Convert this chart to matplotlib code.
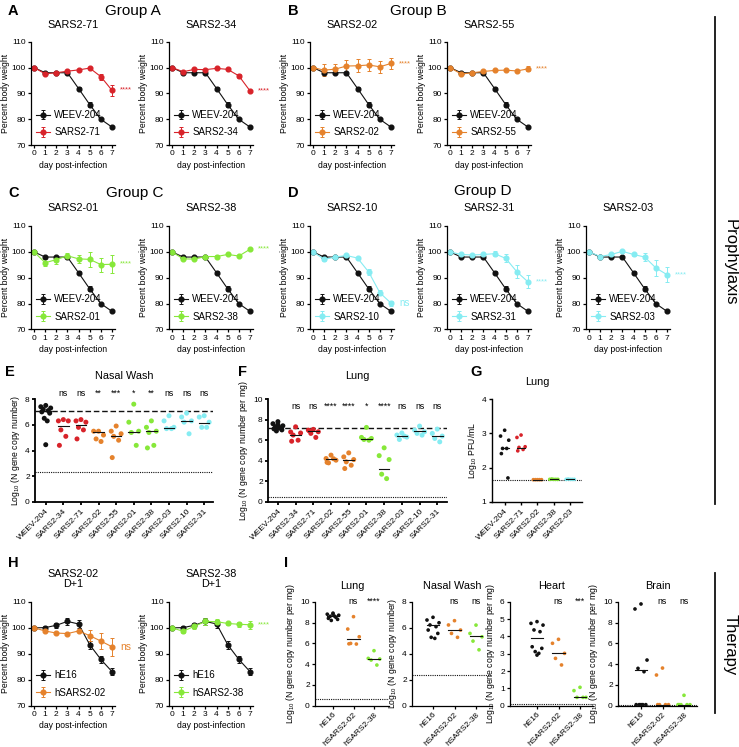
import numpy as np
import matplotlib
matplotlib.use('Agg')
import matplotlib.pyplot as plt
from matplotlib.lines import Line2D

plt.rcParams['font.family'] = 'Liberation Sans'
plt.rcParams['mathtext.fontset'] = 'custom'
plt.rcParams['mathtext.rm'] = 'Liberation Sans'
plt.rcParams['mathtext.it'] = 'Liberation Sans'

# ---- weight curves (percent body weight, days 0-7)
days = [0, 1, 2, 3, 4, 5, 6, 7]
weev_204 = [100, 98.0, 98.0, 98.0, 91.9, 85.7, 80.0, 77.0]
weev_204_err = [0, 0.3, 0.3, 0.3, 0.6, 1.0, 0.4, 0.3]
sars2_71 = [100, 97.6, 98.0, 98.6, 99.1, 99.8, 96.5, 91.2]
sars2_71_err = [0, 0.5, 0.4, 0.4, 0.4, 0.4, 1.2, 2.0]
sars2_34 = [100, 98.4, 99.3, 99.2, 99.7, 99.3, 96.8, 91.0]
sars2_34_err = [0, 0.4, 0.4, 0.4, 0.4, 0.4, 0.8, 0.5]
sars2_02 = [100, 99.0, 99.4, 100.6, 100.7, 101.0, 100.3, 101.6]
sars2_02_err = [0, 2.4, 2.0, 2.4, 2.5, 2.5, 2.4, 2.0]
sars2_55 = [100, 97.5, 98.0, 98.5, 98.9, 99.0, 98.7, 99.5]
sars2_55_err = [0, 0.5, 0.4, 0.4, 0.4, 0.4, 0.4, 1.0]
sars2_01 = [100, 95.8, 97.0, 98.5, 97.3, 97.1, 95.1, 95.2]
sars2_01_err = [0, 1.3, 1.5, 1.0, 1.5, 3.0, 2.7, 3.4]
sars2_38 = [100, 97.3, 97.2, 98.2, 98.2, 99.0, 98.4, 101.0]
sars2_38_err = [0, 0.5, 0.5, 0.4, 0.4, 0.4, 0.4, 0.4]
sars2_10 = [100, 97.1, 98.0, 98.6, 97.6, 92.2, 84.2, 80.2]
sars2_10_err = [0, 0.5, 0.4, 0.4, 0.5, 1.2, 1.0, 1.0]
sars2_31 = [100, 99.0, 98.8, 99.0, 99.3, 97.5, 92.3, 88.4]
sars2_31_err = [0, 0.7, 0.5, 0.5, 1.0, 1.5, 2.5, 2.5]
sars2_03 = [100, 98.2, 99.0, 100.2, 99.0, 98.0, 93.8, 91.2]
sars2_03_err = [0, 0.5, 0.5, 0.5, 0.6, 1.5, 3.0, 3.0]
he16 = [100, 100.1, 101.0, 102.5, 101.5, 93.5, 87.8, 83.1]
he16_err = [0, 0.8, 1.0, 1.5, 1.5, 1.5, 1.2, 1.2]
hsars2_02 = [100, 98.8, 98.0, 97.8, 98.8, 97.0, 94.9, 92.7]
hsars2_02_err = [0, 0.5, 0.4, 0.4, 0.5, 2.0, 3.0, 3.5]
hsars2_38 = [100, 98.7, 100.6, 102.5, 102.4, 101.7, 101.4, 101.2]
hsars2_38_err = [0, 0.7, 1.0, 1.2, 1.0, 0.5, 1.0, 1.5]

# ---- E / F categories
ef_names = ['WEEV-204', 'SARS2-34', 'SARS2-71', 'SARS2-02', 'SARS2-55',
            'SARS2-01', 'SARS2-38', 'SARS2-03', 'SARS2-10', 'SARS2-31']
nasal_vals = [
    [7.5, 7.4, 7.3, 7.2, 7.1, 7.0, 6.9, 6.5, 6.3, 4.45],
    [6.4, 6.3, 6.3, 5.6, 5.1, 4.4],
    [6.4, 6.3, 6.2, 5.8, 5.6, 4.9],
    [5.5, 5.5, 5.2, 4.9, 4.7],
    [5.9, 5.5, 5.3, 5.1, 4.8, 3.45],
    [7.6, 6.2, 5.5, 5.4, 4.4],
    [6.3, 5.8, 5.5, 5.4, 4.4, 4.2],
    [6.7, 6.3, 5.8, 5.7, 5.7],
    [6.9, 6.6, 6.3, 6.2, 5.3],
    [6.7, 6.6, 6.2, 5.8, 5.8],
]
nasal_median = [7.1, 5.9, 6.0, 5.45, 5.1, 5.45, 5.5, 5.75, 6.3, 6.15]
nasal_sig = ['', 'ns', 'ns', '**', '***', '*', '**', 'ns', 'ns', 'ns']
nasal_ref, nasal_lod = 7.1, 2.35

lung_vals = [
    [7.8, 7.6, 7.4, 7.3, 7.2, 7.1, 7.0, 6.9, 7.2, 7.5],
    [7.3, 6.8, 6.7, 6.5, 6.0, 5.9],
    [7.05, 6.98, 6.82, 6.66, 6.27, 6.9],
    [4.55, 4.22, 4.06, 3.8, 4.2, 3.85],
    [4.77, 4.38, 4.12, 3.9, 3.57, 3.25],
    [7.24, 6.27, 6.17, 6.07, 6.0],
    [5.26, 4.5, 4.12, 2.7, 2.27],
    [6.7, 6.5, 6.3, 6.07, 6.4],
    [7.37, 6.98, 6.82, 6.66, 6.49],
    [7.08, 6.66, 6.4, 6.17, 5.84],
]
lung_median = [7.2, 6.5, 6.9, 4.15, 4.05, 6.15, 3.25, 6.4, 6.9, 6.4]
lung_sig = ['', 'ns', 'ns', '****', '****', '*', '****', 'ns', 'ns', 'ns']
lung_ref, lung_lod = 7.22, 0.5

# ---- G lung PFU
g_names = ['WEEV-204', 'SARS2-71', 'SARS2-02', 'SARS2-38', 'SARS2-03']
pfu_vals = [
    [3.09, 2.92, 2.80, 2.56, 2.56, 2.41, 1.70],
    [2.95, 2.88, 2.61, 2.59, 2.53, 2.49],
    [1.65, 1.65, 1.65, 1.65, 1.65],
    [1.66, 1.67, 1.66, 1.66, 1.66],
    [1.66, 1.67, 1.66, 1.66, 1.66],
]
pfu_median = [2.56, 2.58, 1.65, 1.66, 1.66]
pfu_lod = 1.65

# ---- I therapy tissues
i_names = ['hE16', 'hSARS2-02', 'hSARS2-38']
i_lung = [[8.9, 8.8, 8.7, 8.6, 8.5, 8.4, 8.3, 8.2, 8.6, 8.8],
          [8.56, 7.37, 6.63, 5.99, 5.93, 5.95],
          [5.29, 4.55, 4.49, 4.39, 3.91]]
i_lung_median = [8.65, 6.38, 4.49]
i_nasal = [[6.8, 6.59, 6.38, 6.21, 6.08, 5.82, 5.56, 5.26, 5.18],
           [6.54, 6.21, 5.82, 5.56, 5.26],
           [6.2, 5.56, 5.3, 4.97, 4.3]]
i_nasal_median = [6.2, 5.82, 5.4]
i_heart = [[4.85, 4.75, 4.65, 4.37, 4.27, 3.4, 3.31, 3.12, 3.02, 2.92],
           [3.83, 3.6, 3.02, 2.73, 2.35],
           [1.06, 0.87, 0.48, 0.48, 0.48]]
i_heart_median = [3.88, 3.02, 0.48]
i_brain = [[9.78, 9.3, 4.39, 3.59, 3.27, 0.1, 0.1, 0.1, 0.1, 0.1],
           [3.62, 2.95, 0.1, 0.1, 0.1, 0.1],
           [1.0, 0.1, 0.1, 0.1, 0.1, 0.1]]
i_brain_median = [3.43, 0.1, 0.1]

BLACK = '#111111'
RED = '#d8232a'
ORANGE = '#e5822c'
GREEN = '#87e83a'
CYAN = '#86ecf2'
ef_colors = [BLACK, RED, RED, ORANGE, ORANGE, GREEN, GREEN, CYAN, CYAN, CYAN]
g_colors = [BLACK, RED, ORANGE, GREEN, CYAN]
i_colors = [BLACK, ORANGE, GREEN]

TICK_FS = 6
LAB_FS = 6.2
SUB_FS = 7.8
GROUP_FS = 11
LETTER_FS = 10.5

W, H = 739, 747
fig = plt.figure(figsize=(W / 100, H / 100), dpi=100)


def px_axes(left, top, right, bottom):
    return fig.add_axes([left / W, 1 - bottom / H, (right - left) / W, (bottom - top) / H])


def ftext(x, y, s, **kw):
    fig.text(x / W, 1 - y / H, s, **kw)


def style(ax, lw=0.9, fs=TICK_FS):
    ax.spines['top'].set_visible(False)
    ax.spines['right'].set_visible(False)
    ax.spines['left'].set_linewidth(lw)
    ax.spines['bottom'].set_linewidth(lw)
    ax.tick_params(labelsize=fs, length=2.3, width=lw, pad=1.5)


def weight_panel(left, top, ctrl, ctrl_err, ctrl_name, test, test_err, test_name,
                 color, sig, sig_fs=5.5):
    ax = px_axes(left, top, left + 84, top + 103.5)
    style(ax)
    for y, e, c, name in [(ctrl, ctrl_err, BLACK, ctrl_name), (test, test_err, color, test_name)]:
        ax.errorbar(days, y, yerr=e, color=c, marker='o', markersize=3.4, lw=0.8,
                    elinewidth=0.7, capsize=1.6, capthick=0.7, label=name)
    ax.set_xlim(-0.27, 7.27)
    ax.set_ylim(70, 110)
    ax.set_xticks(days)
    ax.set_yticks([70, 80, 90, 100, 110])
    ax.set_ylabel('Percent body weight', fontsize=LAB_FS, labelpad=1)
    ax.set_xlabel('day post-infection', fontsize=LAB_FS, labelpad=2.5)
    ax.text(7.75, test[-1], sig, color=color, fontsize=sig_fs, va='center',
            ha='left', clip_on=False)
    ax.legend(loc='lower left', bbox_to_anchor=(0.0, 0.03), frameon=False,
              fontsize=7, handlelength=1.5, handletextpad=0.4,
              labelspacing=0.75, borderaxespad=0.2, borderpad=0.3)
    return ax


def spread(vals, w):
    pattern = [0, -1, 1, -0.5, 0.5, -0.8, 0.8, -0.3, 0.3, 0.0]
    v = np.asarray(vals)
    if np.ptp(v) < 0.05:
        return np.linspace(-w, w, len(v))
    return np.array([pattern[k % len(pattern)] * w for k in range(len(v))])


def dot_panel(ax, groups, medians, colors, s=9, w=0.28, mw=0.3):
    for i, (vals, med, c) in enumerate(zip(groups, medians, colors)):
        ax.scatter(i + spread(vals, w), vals, s=s, color=c, edgecolors='none', zorder=3)
        ax.plot([i - mw, i + mw], [med, med], color=BLACK, lw=0.8, zorder=4)


# ---------------- Row A/B ----------------
ftext(8, 11, 'A', fontsize=LETTER_FS, fontweight='bold', va='center')
ftext(288, 11, 'B', fontsize=LETTER_FS, fontweight='bold', va='center')
ftext(133, 11, 'Group A', fontsize=GROUP_FS, ha='center', va='center')
ftext(418, 11, 'Group B', fontsize=GROUP_FS, ha='center', va='center')
row1 = [(31, sars2_71, sars2_71_err, 'SARS2-71', RED, '****'),
        (169, sars2_34, sars2_34_err, 'SARS2-34', RED, '****'),
        (310, sars2_02, sars2_02_err, 'SARS2-02', ORANGE, '****'),
        (447, sars2_55, sars2_55_err, 'SARS2-55', ORANGE, '****')]
for left, y, e, name, c, sig in row1:
    weight_panel(left, 41.7, weev_204, weev_204_err, 'WEEV-204', y, e, name, c, sig)
    ftext(left + 42, 25, name, fontsize=SUB_FS, ha='center', va='center')

# ---------------- Row C/D ----------------
ftext(8, 193, 'C', fontsize=LETTER_FS, fontweight='bold', va='center')
ftext(288, 193, 'D', fontsize=LETTER_FS, fontweight='bold', va='center')
ftext(135, 193, 'Group C', fontsize=GROUP_FS, ha='center', va='center')
ftext(483, 191, 'Group D', fontsize=GROUP_FS, ha='center', va='center')
row2 = [(31, sars2_01, sars2_01_err, 'SARS2-01', GREEN, '****', 5.5),
        (169, sars2_38, sars2_38_err, 'SARS2-38', GREEN, '****', 5.5),
        (310, sars2_10, sars2_10_err, 'SARS2-10', CYAN, 'ns', 7),
        (447, sars2_31, sars2_31_err, 'SARS2-31', CYAN, '****', 5.5),
        (586, sars2_03, sars2_03_err, 'SARS2-03', CYAN, '****', 5.5)]
for left, y, e, name, c, sig, sfs in row2:
    weight_panel(left, 226, weev_204, weev_204_err, 'WEEV-204', y, e, name, c, sig, sfs)
    ftext(left + 42, 208, name, fontsize=SUB_FS, ha='center', va='center')

# ---------------- E ----------------
ftext(5, 372, 'E', fontsize=LETTER_FS, fontweight='bold', va='center')
axE = px_axes(35, 399, 213, 502)
style(axE, lw=1.3)
dot_panel(axE, nasal_vals, nasal_median, ef_colors, s=13)
axE.axhline(nasal_ref, color=BLACK, lw=1.0, ls=(0, (4, 2)), zorder=2)
axE.axhline(nasal_lod, color=BLACK, lw=0.8, ls=(0, (1, 1)), zorder=2)
axE.set_xlim(-0.61, 9.5)
axE.set_ylim(0, 8)
axE.set_yticks([0, 2, 4, 6, 8])
axE.set_xticks(range(len(ef_names)))
axE.set_xticklabels(ef_names, rotation=45, ha='right', rotation_mode='anchor', fontsize=TICK_FS)
axE.set_ylabel('Log$_{10}$ (N gene copy number)', fontsize=LAB_FS, labelpad=2)
ftext(124, 376, 'Nasal Wash', fontsize=SUB_FS, ha='center', va='center')
for i, s in enumerate(nasal_sig):
    axE.text(i, 8.45, s, ha='center', va='center', fontsize=6.3, clip_on=False)

# ---------------- F ----------------
ftext(238, 372, 'F', fontsize=LETTER_FS, fontweight='bold', va='center')
axF = px_axes(268, 399, 447, 502)
style(axF, lw=1.3)
dot_panel(axF, lung_vals, lung_median, ef_colors, s=13)
axF.axhline(lung_ref, color=BLACK, lw=1.0, ls=(0, (4, 2)), zorder=2)
axF.axhline(lung_lod, color=BLACK, lw=0.8, ls=(0, (1, 1)), zorder=2)
axF.set_xlim(-0.56, 9.55)
axF.set_ylim(0, 10)
axF.set_yticks([0, 2, 4, 6, 8, 10])
axF.set_xticks(range(len(ef_names)))
axF.set_xticklabels(ef_names, rotation=45, ha='right', rotation_mode='anchor', fontsize=TICK_FS)
axF.set_ylabel('Log$_{10}$ (N gene copy number per mg)', fontsize=LAB_FS, labelpad=2)
ftext(357, 376, 'Lung', fontsize=SUB_FS, ha='center', va='center')
for i, s in enumerate(lung_sig):
    axF.text(i, 9.3, s, ha='center', va='center', fontsize=6.3, clip_on=False)

# ---------------- G ----------------
ftext(470, 372, 'G', fontsize=LETTER_FS, fontweight='bold', va='center')
axG = px_axes(491.7, 399, 581.7, 502)
style(axG, lw=1.0)
dot_panel(axG, pfu_vals, pfu_median, g_colors, s=7, w=0.25, mw=0.25)
axG.axhline(pfu_lod, color=BLACK, lw=0.8, ls=(0, (1, 1)), zorder=2)
axG.set_xlim(-0.79, 4.7)
axG.set_ylim(1, 4)
axG.set_yticks([1, 2, 3, 4])
axG.set_xticks(range(len(g_names)))
axG.set_xticklabels(g_names, rotation=45, ha='right', rotation_mode='anchor', fontsize=TICK_FS)
axG.set_ylabel('Log$_{10}$ PFU/mL', fontsize=LAB_FS, labelpad=2)
ftext(537, 382, 'Lung', fontsize=SUB_FS, ha='center', va='center')

# ---------------- H ----------------
ftext(8, 563, 'H', fontsize=LETTER_FS, fontweight='bold', va='center')
weight_panel(31, 602, he16, he16_err, 'hE16', hsars2_02, hsars2_02_err, 'hSARS2-02',
             ORANGE, 'ns', 7.5)
weight_panel(169, 602, he16, he16_err, 'hE16', hsars2_38, hsars2_38_err, 'hSARS2-38',
             GREEN, '****', 5.5)
ftext(73, 579, 'SARS2-02\nD+1', fontsize=SUB_FS, ha='center', va='center', linespacing=1.05)
ftext(211, 579, 'SARS2-38\nD+1', fontsize=SUB_FS, ha='center', va='center', linespacing=1.05)

# ---------------- I ----------------
ftext(284, 563, 'I', fontsize=LETTER_FS, fontweight='bold', va='center')
i_panels = [
    ('Lung', i_lung, i_lung_median, 10, [0, 2, 4, 6, 8, 10], 0.61, ['ns', '****'],
     'Log$_{10}$ (N gene copy number per mg)', 315, 333, 374, 389),
    ('Nasal Wash', i_nasal, i_nasal_median, 8, [0, 2, 4, 6, 8], 2.36, ['ns', 'ns'],
     'Log$_{10}$ (N gene copy number)', 412, 433, 476, 492),
    ('Heart', i_heart, i_heart_median, 6, [0, 1, 2, 3, 4, 5, 6], 0.12, ['ns', '***'],
     'Log$_{10}$ (N gene copy number per mg)', 510, 537, 580, 593),
    ('Brain', i_brain, i_brain_median, 10, [0, 2, 4, 6, 8, 10], 0.1, ['ns', 'ns'],
     'Log$_{10}$ (N gene copy number per mg)', 618, 641, 684, 697),
]
for title, groups, meds, ymax, yt, lod, sigs, ylab, left, c1, c3, right in i_panels:
    ax = px_axes(left, 601.7, right, 705.7)
    style(ax, lw=0.9)
    sp = (c3 - c1) / 2
    dot_panel(ax, groups, meds, i_colors, s=7, w=0.28, mw=0.3)
    ax.axhline(lod, color=BLACK, lw=0.8, ls=(0, (1, 1)), zorder=2)
    ax.set_xlim((left - c1) / sp, (right - c1) / sp)
    ax.set_ylim(0, ymax)
    ax.set_yticks(yt)
    ax.set_xticks(range(3))
    ax.set_xticklabels(i_names, rotation=45, ha='right', rotation_mode='anchor', fontsize=TICK_FS)
    ax.set_ylabel(ylab, fontsize=LAB_FS, labelpad=2)
    ftext((left + right) / 2, 586, title, fontsize=SUB_FS, ha='center', va='center')
    for k, s in enumerate(sigs):
        ax.text(k + 1, ymax, s, ha='center', va='center', fontsize=6.3, clip_on=False)

# ---------------- side labels ----------------
fig.add_artist(Line2D([715 / W, 715 / W], [1 - 17 / H, 1 - 504 / H], color=BLACK, lw=1.3))
fig.add_artist(Line2D([715 / W, 715 / W], [1 - 573 / H, 1 - 713 / H], color=BLACK, lw=1.3))
ftext(730, 262, 'Prophylaxis', fontsize=12, rotation=-90, ha='center', va='center')
ftext(730, 645, 'Therapy', fontsize=12, rotation=-90, ha='center', va='center')

fig.savefig('out.png', dpi=100)
